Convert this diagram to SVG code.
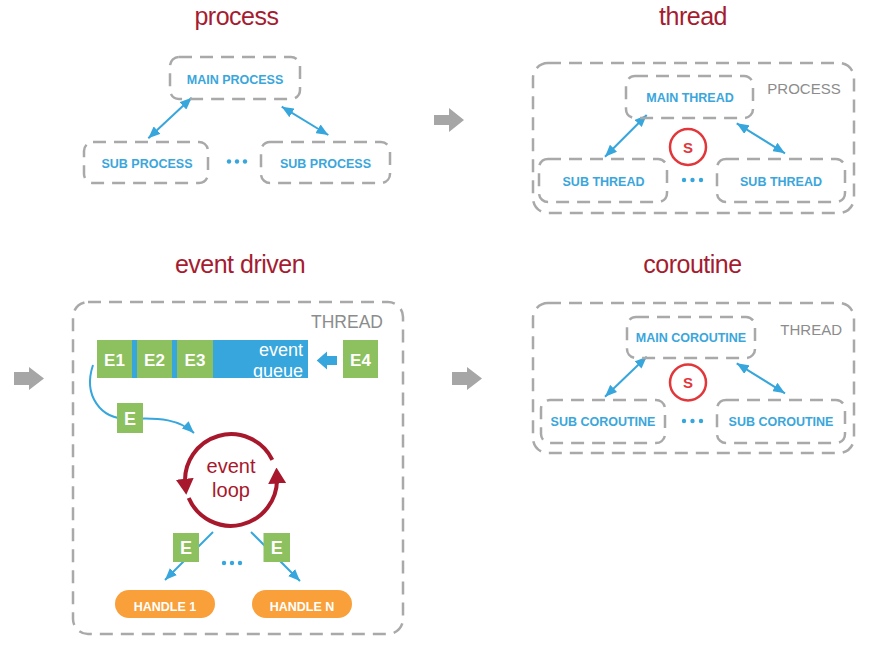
<svg xmlns="http://www.w3.org/2000/svg" width="878" height="647" viewBox="0 0 878 647">
<style>
.title{font-family:"Liberation Sans",Arial,sans-serif;font-size:25px;fill:#a51c30;text-anchor:middle;letter-spacing:-0.5px}
.lbl{font-family:"Liberation Sans",Arial,sans-serif;font-size:12.5px;font-weight:bold;fill:#3aa6dc;text-anchor:middle}
.dash{fill:none;stroke:#a9a9a9;stroke-width:2.5;stroke-dasharray:13 8}
.glbl{font-family:"Liberation Sans",Arial,sans-serif;fill:#8c8c8c}
.blue{fill:none;stroke:#36a6dc;stroke-width:2}
.green{fill:#8dc05e}
.etxt{font-family:"Liberation Sans",Arial,sans-serif;font-weight:bold;fill:#fff;text-anchor:middle}
.s{fill:#fff;stroke:#e2373a;stroke-width:2.5}
.stxt{font-family:"Liberation Sans",Arial,sans-serif;font-size:15px;font-weight:bold;fill:#e2373a;text-anchor:middle}
.dot{fill:#36a6dc}
.garrow{fill:#a6a6a6}
.handle{fill:#f9a03a}
.loop{fill:none;stroke:#a8182c;stroke-width:4}
.looptxt{font-family:"Liberation Sans",Arial,sans-serif;font-size:20px;fill:#a8182c;text-anchor:middle}
.qtxt{font-family:"Liberation Sans",Arial,sans-serif;font-size:18px;fill:#fff;text-anchor:end}
</style>
<defs>
<marker id="ab" viewBox="0 0 12 10" refX="12" refY="5" markerWidth="12" markerHeight="10" markerUnits="userSpaceOnUse" orient="auto-start-reverse"><path d="M0,0 L12,5 L0,10 Z" fill="#36a6dc"/></marker>
<marker id="ar" viewBox="0 0 16 18" refX="6" refY="9" markerWidth="16" markerHeight="18" markerUnits="userSpaceOnUse" orient="auto"><path d="M0,0 L16,9 L0,18 Z" fill="#a8182c"/></marker>
<clipPath id="qclip"><rect x="97" y="340" width="211" height="38"/></clipPath>
</defs>

<!-- titles -->
<text class="title" x="236.5" y="25">process</text>
<text class="title" x="693" y="25">thread</text>
<text class="title" x="240" y="273">event driven</text>
<text class="title" x="692.5" y="273">coroutine</text>

<!-- gray transition arrows -->
<g id="transitions">
<path class="garrow" d="M434,115 H449 V108 L464,120 L449,132 V125 H434 Z"/>
<path class="garrow" d="M14,372 H29 V367 L44,378.5 L29,390 V385 H14 Z"/>
<path class="garrow" d="M452,372 H467 V367 L482,378.5 L467,390 V385 H452 Z"/>
</g>

<!-- containers -->
<g id="thread-container">
<rect class="dash" x="533" y="63" width="321" height="150" rx="15"/>
<text class="glbl" x="804" y="94" font-size="15" text-anchor="middle">PROCESS</text>
</g>
<g id="coroutine-container">
<rect class="dash" x="533" y="303" width="321" height="150" rx="15"/>
<text class="glbl" x="842" y="335" font-size="15" text-anchor="end">THREAD</text>
</g>
<g id="event-container">
<rect class="dash" x="73" y="302" width="330" height="332" rx="15"/>
<text class="glbl" x="383" y="328" font-size="17.5" text-anchor="end">THREAD</text>
</g>

<!-- connectors -->
<g id="connectors">
<line class="blue" x1="148.3" y1="138.3" x2="191.7" y2="97.7" marker-start="url(#ab)" marker-end="url(#ab)"/>
<line class="blue" x1="281.7" y1="106.7" x2="328.3" y2="135" marker-start="url(#ab)" marker-end="url(#ab)"/>
<line class="blue" x1="605" y1="156.7" x2="646.7" y2="115" marker-start="url(#ab)" marker-end="url(#ab)"/>
<line class="blue" x1="736.7" y1="123.3" x2="785" y2="153.3" marker-start="url(#ab)" marker-end="url(#ab)"/>
<line class="blue" x1="605" y1="396.7" x2="646.7" y2="356.7" marker-start="url(#ab)" marker-end="url(#ab)"/>
<line class="blue" x1="736.7" y1="363.3" x2="785" y2="393.3" marker-start="url(#ab)" marker-end="url(#ab)"/>
<path class="blue" d="M93,365 C83,395 100,420 130,419 C160,417 180,420 194,433" marker-end="url(#ab)"/>
<line class="blue" x1="213" y1="532" x2="165" y2="580" marker-end="url(#ab)"/>
<line class="blue" x1="251" y1="532" x2="300" y2="581" marker-end="url(#ab)"/>
<path fill="#36a6dc" d="M316.7,360.5 L327,351.5 V356 H337 V365 H327 V369.5 Z"/>
</g>

<!-- process nodes -->
<g id="main-process">
<rect class="dash" x="170" y="57" width="130" height="42" rx="9"/>
<text class="lbl" x="235" y="84">MAIN PROCESS</text>
</g>
<g id="sub-process-1">
<rect class="dash" x="84" y="142" width="124" height="41" rx="9"/>
<text class="lbl" x="147" y="168">SUB PROCESS</text>
</g>
<g id="sub-process-2">
<rect class="dash" x="261" y="142" width="129" height="41" rx="9"/>
<text class="lbl" x="325.5" y="168">SUB PROCESS</text>
</g>
<g id="process-dots"><circle class="dot" cx="229" cy="161.5" r="2.2"/><circle class="dot" cx="237" cy="161.5" r="2.2"/><circle class="dot" cx="245" cy="161.5" r="2.2"/></g>

<!-- thread nodes -->
<g id="main-thread">
<rect class="dash" x="626" y="76" width="127" height="42" rx="9"/>
<text class="lbl" x="690" y="102">MAIN THREAD</text>
</g>
<g id="sub-thread-1">
<rect class="dash" x="539" y="159" width="128" height="43" rx="9"/>
<text class="lbl" x="603.5" y="186">SUB THREAD</text>
</g>
<g id="sub-thread-2">
<rect class="dash" x="717" y="159" width="128" height="43" rx="9"/>
<text class="lbl" x="781" y="186">SUB THREAD</text>
</g>
<g id="thread-scheduler">
<circle class="s" cx="688" cy="147" r="18"/>
<text class="stxt" x="688" y="152.5">S</text>
</g>
<g id="thread-dots"><circle class="dot" cx="684" cy="180" r="2.2"/><circle class="dot" cx="692.5" cy="180" r="2.2"/><circle class="dot" cx="701" cy="180" r="2.2"/></g>

<!-- coroutine nodes -->
<g id="main-coroutine">
<rect class="dash" x="627" y="317" width="128" height="41" rx="9"/>
<text class="lbl" x="691" y="342">MAIN COROUTINE</text>
</g>
<g id="sub-coroutine-1">
<rect class="dash" x="541" y="400" width="124" height="43" rx="9"/>
<text class="lbl" x="603" y="426">SUB COROUTINE</text>
</g>
<g id="sub-coroutine-2">
<rect class="dash" x="717" y="400" width="128" height="43" rx="9"/>
<text class="lbl" x="781" y="426">SUB COROUTINE</text>
</g>
<g id="coroutine-scheduler">
<circle class="s" cx="688" cy="382.5" r="18"/>
<text class="stxt" x="688" y="388">S</text>
</g>
<g id="coroutine-dots"><circle class="dot" cx="684" cy="421" r="2.2"/><circle class="dot" cx="692.5" cy="421" r="2.2"/><circle class="dot" cx="701" cy="421" r="2.2"/></g>

<!-- event queue -->
<g id="event-queue">
<rect x="97" y="340" width="211" height="38" fill="#36a6dc"/>
<g clip-path="url(#qclip)">
<text class="qtxt" x="303" y="356">event</text>
<text class="qtxt" x="303" y="377">queue</text>
</g>
</g>
<g id="e1"><rect class="green" x="97" y="340" width="35" height="38"/><text class="etxt" x="114.5" y="366" font-size="17">E1</text></g>
<g id="e2"><rect class="green" x="137" y="340" width="35" height="38"/><text class="etxt" x="154.5" y="366" font-size="17">E2</text></g>
<g id="e3"><rect class="green" x="177" y="340" width="36" height="38"/><text class="etxt" x="195" y="366" font-size="17">E3</text></g>
<g id="e4"><rect class="green" x="343" y="340" width="35" height="38"/><text class="etxt" x="360.5" y="366" font-size="17">E4</text></g>
<g id="e-dequeued"><rect class="green" x="117" y="403" width="26" height="30"/><text class="etxt" x="130" y="425" font-size="18">E</text></g>

<!-- event loop -->
<g id="event-loop">
<path class="loop" d="M272.3,459.8 A46,46 0 0 0 185.3,484.8" marker-end="url(#ar)"/>
<path class="loop" d="M188.7,498 A46,46 0 0 0 276.9,477.6" marker-end="url(#ar)"/>
<text class="looptxt" x="231" y="473">event</text>
<text class="looptxt" x="231" y="497">loop</text>
</g>

<g id="e-left"><rect class="green" x="173" y="533" width="26" height="29"/><text class="etxt" x="186" y="554" font-size="18">E</text></g>
<g id="e-right"><rect class="green" x="263.5" y="533" width="26.5" height="29"/><text class="etxt" x="276.7" y="554" font-size="18">E</text></g>
<g id="event-dots"><circle class="dot" cx="224" cy="563" r="2.2"/><circle class="dot" cx="232" cy="563" r="2.2"/><circle class="dot" cx="240" cy="563" r="2.2"/></g>

<g id="handle-1"><rect class="handle" x="115" y="590" width="100" height="28" rx="14"/><text class="etxt" x="165" y="610.5" font-size="12.5">HANDLE 1</text></g>
<g id="handle-n"><rect class="handle" x="252" y="590" width="100" height="28" rx="14"/><text class="etxt" x="302" y="610.5" font-size="12.5">HANDLE N</text></g>
</svg>
